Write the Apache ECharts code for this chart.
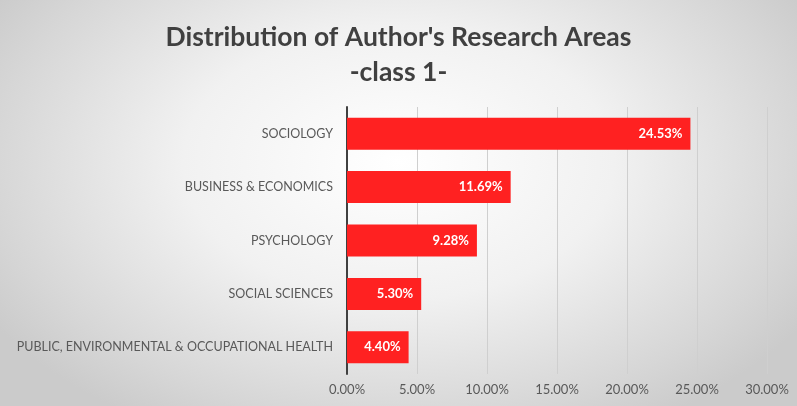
<!DOCTYPE html>
<html>
<head>
<meta charset="utf-8">
<script src="https://cdn.jsdelivr.net/npm/echarts@6/dist/echarts.min.js"></script>
<style>
  html, body { margin: 0; padding: 0; }
  #chart { width: 797px; height: 406px;
    background: radial-gradient(ellipse 60% 75% at 50% 40%, #ffffff 0%, #f1f1f1 45%, #d6d6d6 85%, #cbcbcb 100%); }
</style>
</head>
<body>
<div id="chart"></div>
<script>
// Research areas, listed bottom-to-top as the category axis draws them
const categories = [
  'PUBLIC, ENVIRONMENTAL & OCCUPATIONAL HEALTH',
  'SOCIAL SCIENCES',
  'PSYCHOLOGY',
  'BUSINESS & ECONOMICS',
  'SOCIOLOGY'
];
// Share of authors in each area (percent)
const shares = [4.40, 5.30, 9.28, 11.69, 24.53];
// Percent axis ticks
const axisMin = 0;
const axisMax = 30;
const axisStep = 5;

const fontFamily = 'Lato, "Open Sans", "Noto Sans", sans-serif';

const chart = echarts.init(document.getElementById('chart'), null, { renderer: 'canvas' });
chart.setOption({
  backgroundColor: 'transparent',
  animation: false,
  title: {
    text: "Distribution of Author's Research Areas\n-class 1-",
    left: 'center',
    top: 15,
    textStyle: {
      fontFamily: fontFamily,
      fontSize: 26.5,
      fontWeight: 'bold',
      color: '#404040',
      lineHeight: 35
    }
  },
  grid: { left: 347, right: 30, top: 107, bottom: 32, containLabel: false },
  xAxis: {
    type: 'value',
    min: axisMin,
    max: axisMax,
    interval: axisStep,
    axisLine: { show: false },
    axisTick: { show: false },
    splitLine: { show: true, lineStyle: { color: '#cfcfcf', width: 1 } },
    axisLabel: {
      margin: 9,
      color: '#595959',
      fontFamily: fontFamily,
      fontSize: 13,
      formatter: v => v.toFixed(2) + '%'
    }
  },
  yAxis: {
    type: 'category',
    data: categories,
    axisLine: { show: true, lineStyle: { color: '#404040', width: 2 } },
    axisTick: { show: false },
    axisLabel: {
      margin: 14,
      color: '#595959',
      fontFamily: fontFamily,
      fontSize: 12.5
    }
  },
  series: [{
    type: 'bar',
    data: shares,
    barCategoryGap: '40%',
    itemStyle: { color: '#ff2121' },
    label: {
      show: true,
      position: 'insideRight',
      distance: 8,
      color: '#ffffff',
      fontFamily: fontFamily,
      fontSize: 13,
      fontWeight: 'bold',
      formatter: p => p.value.toFixed(2) + '%'
    }
  }]
});
</script>
</body>
</html>
